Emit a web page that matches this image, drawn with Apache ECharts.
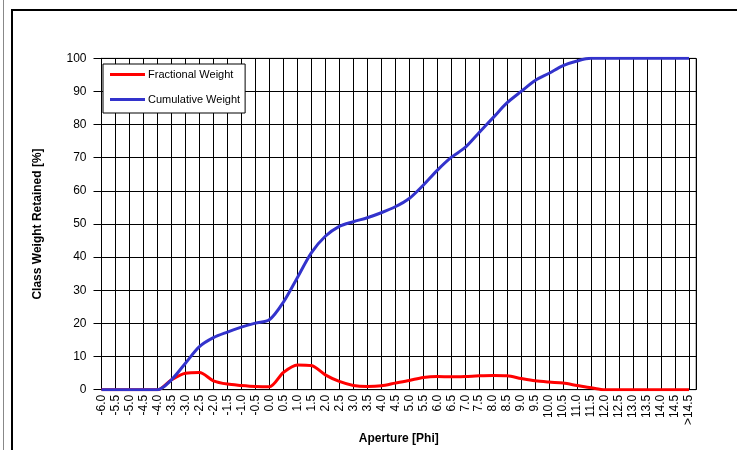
<!DOCTYPE html>
<html>
<head>
<meta charset="utf-8">
<script src="https://cdn.jsdelivr.net/npm/echarts@6/dist/echarts.min.js"></script>
<style>
html,body{margin:0;padding:0;background:#fff;}
#chart{width:737px;height:450px;}
</style>
</head>
<body>
<div id="chart"></div>
<script>
var categories = ['-6.0','-5.5','-5.0','-4.5','-4.0','-3.5','-3.0','-2.5','-2.0','-1.5','-1.0','-0.5','0.0','0.5','1.0','1.5','2.0','2.5','3.0','3.5','4.0','4.5','5.0','5.5','6.0','6.5','7.0','7.5','8.0','8.5','9.0','9.5','10.0','10.5','11.0','11.5','12.0','12.5','13.0','13.5','14.0','14.5','>14.5'];
var fractionalWeight = [0,0,0,0,0,3.0,5.0,5.2,2.7,1.7,1.3,1.0,0.9,5.2,7.5,7.3,4.5,2.5,1.3,1.0,1.2,2.0,2.8,3.7,4.0,3.9,4.0,4.2,4.3,4.2,3.4,2.7,2.3,2.0,1.3,0.6,0,0,0,0,0,0,0];
var cumulativeWeight = [0,0,0,0,0,3.0,8.0,13.0,15.7,17.4,18.9,20.1,21.1,26.4,33.8,41.3,46.3,49.3,50.7,51.9,53.4,55.2,57.7,61.7,66.2,70.1,73.1,77.6,82.1,86.6,90.0,93.3,95.5,97.8,99.2,100,100,100,100,100,100,100,100];
var yTicks = [0,10,20,30,40,50,60,70,80,90,100];

function pairs(arr){ return arr.map(function(v,i){ return [i, v]; }); }

var chart = echarts.init(document.getElementById('chart'), null, {renderer:'canvas'});
var font = 'Liberation Sans, Arial, sans-serif';
chart.setOption({
  animation:false,
  backgroundColor:'#fff',
  textStyle:{fontFamily:font},
  graphic:[
    {type:'line', shape:{x1:3.5,y1:0,x2:3.5,y2:450}, style:{stroke:'#888',lineWidth:1}, silent:true},
    {type:'polyline', shape:{points:[[12,460],[12,10],[740,10]]}, style:{stroke:'#000',lineWidth:2,fill:null}, silent:true}
  ],
  grid:{left:101.5, top:58.3, width:594.5, height:335, show:true, borderColor:'#777', borderWidth:1, backgroundColor:'#fff'},
  legend:{
    orient:'vertical', left:103, top:64,
    backgroundColor:'#fff', borderColor:'#000', borderWidth:1,
    padding:[5,5,8,7],
    itemWidth:35, itemHeight:3, itemGap:14, icon:'rect',
    textStyle:{fontFamily:font, fontSize:11, color:'#000', padding:[0,0,0,-2]},
    data:['Fractional Weight','Cumulative Weight']
  },
  xAxis:{
    type:'value', min:0, max:42.5, interval:1,
    name:'Aperture [Phi]', nameLocation:'middle', nameGap:38,
    nameTextStyle:{fontFamily:font, fontSize:12, fontWeight:'bold', color:'#000'},
    axisLine:{show:true, onZero:false, lineStyle:{color:'#000',width:1}},
    axisTick:{show:false},
    axisLabel:{rotate:90, fontFamily:font, fontSize:12, color:'#000', margin:5,
      formatter:function(v){ return categories[v] !== undefined && v === Math.round(v) ? categories[v] : ''; }},
    splitLine:{show:true, lineStyle:{color:'#000', width:1}}
  },
  yAxis:{
    type:'value', min:yTicks[0], max:yTicks[yTicks.length-1], interval:10,
    name:'Class Weight Retained [%]', nameLocation:'middle', nameGap:58,
    nameTextStyle:{fontFamily:font, fontSize:12, fontWeight:'bold', color:'#000'},
    axisLine:{show:true, lineStyle:{color:'#000',width:1}},
    axisTick:{show:true, length:8, lineStyle:{color:'#000'}},
    axisLabel:{fontFamily:font, fontSize:12, color:'#000', margin:15},
    splitLine:{show:true, lineStyle:{color:'#000', width:1}}
  },
  series:[
    {name:'Fractional Weight', type:'line', data:pairs(fractionalWeight), smooth:0.3, showSymbol:false,
     lineStyle:{color:'#ff0000', width:3}, itemStyle:{color:'#ff0000'}, z:3},
    {name:'Cumulative Weight', type:'line', data:pairs(cumulativeWeight), smooth:0.3, showSymbol:false,
     lineStyle:{color:'#3333cc', width:3}, itemStyle:{color:'#3333cc'}, z:4}
  ]
});
</script>
</body>
</html>
